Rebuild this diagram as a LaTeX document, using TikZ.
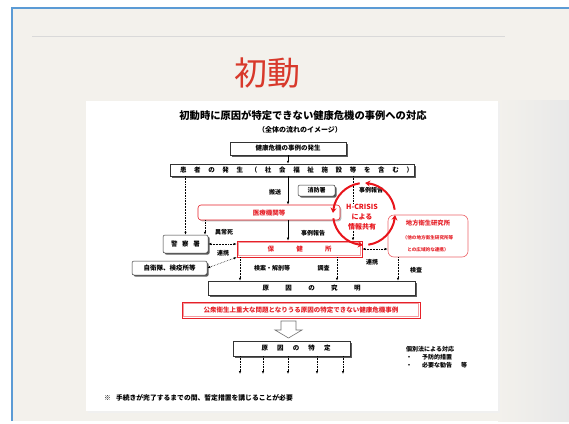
\documentclass[tikz,border=0pt]{standalone}
\usepackage{fontspec}
\setmainfont{Noto Sans CJK JP}
\usetikzlibrary{arrows.meta,shadows,bending,calc}
\definecolor{bgb}{HTML}{F3F1EC}
\definecolor{slblue}{HTML}{5B9BD5}
\definecolor{ttlred}{HTML}{D8392B}
\definecolor{dred}{HTML}{E62129}
\definecolor{hcred}{HTML}{E8141B}
\newcommand\spr[2]{\makebox[#1][s]{#2}}
\newcommand\bigf{\fontsize{6.3}{8}\selectfont\bfseries}
\newcommand\smlf{\fontsize{4.6}{6}\selectfont\bfseries}
\begin{document}
\begin{tikzpicture}[x=1pt,y=-1pt,
 >={Latex[length=3pt,width=2.4pt]},
 bbox/.style={draw=black!80, line width=0.5pt, fill=white, inner sep=0pt, font=\fontsize{6.5}{7}\selectfont\bfseries,
   drop shadow={shadow xshift=1.6pt, shadow yshift=-1.6pt, fill=black!75, opacity=0.85}},
 rbx/.style={draw=dred, line width=0.6pt, fill=white, inner sep=0pt, text=dred, font=\fontsize{6.5}{7}\selectfont\bfseries,
   drop shadow={shadow xshift=1.4pt, shadow yshift=-1.4pt, fill=black!35, opacity=0.8}},
 lbl/.style={font=\fontsize{6}{7}\selectfont\bfseries, inner sep=0.5pt},
 dotl/.style={densely dotted, line width=0.55pt, ->},
 dotb/.style={densely dotted, line width=0.55pt, <->},
 soll/.style={line width=0.55pt, ->},
 hcr/.style={draw=hcred, line width=2pt, -{Stealth[length=5pt,width=6pt,bend]}},
]
\useasboundingbox (0,0) rectangle (569,423);
% slide background
\fill[white] (0,0) rectangle (569,423);
\fill[bgb] (12,8) rectangle (569,421);
\shade[left color=bgb, right color=black!9] (498,100) rectangle (569,421);
\draw[slblue, line width=1.5pt] (12,421) -- (12,8) -- (569,8);
\draw[black!15, line width=0.6pt] (32,36) -- (505,36);
\node[font=\fontsize{33}{36}\selectfont, text=ttlred] (ttl) at (267,73) {初動};
% white panel
\fill[black!6] (88,103) rectangle (500,413);
\fill[white] (86,101) rectangle (498,411);

% titles
\node[font=\fontsize{10.3}{12}\selectfont\bfseries] (dt) at (303,116) {初動時に原因が特定できない健康危機の事例への対応};
\node[font=\fontsize{7}{8}\selectfont\bfseries] (sub) at (300,130) {（全体の流れのイメージ）};

% boxes
\node[bbox, minimum width=116pt, minimum height=13pt] (hassei) at (288,148.5) {健康危機の事例の発生};
\node[bbox, minimum width=244pt, minimum height=12pt] (kanja) at (292,170)
  {\spr{244pt}{\hspace{10pt}患\hfill 者\hfill の\hfill 発\hfill 生\hfill （\hfill 社\hfill 会\hfill 福\hfill 祉\hfill 施\hfill 設\hfill 等\hfill を\hfill 含\hfill む\hfill ）\hspace{1pt}}};
\node[bbox, rounded corners=2pt, minimum width=37pt, minimum height=11pt, font=\fontsize{6}{7}\selectfont\bfseries] (shobo) at (316.5,190.5) {消防署};
\node[rbx, rounded corners=3pt, minimum width=142pt, minimum height=15pt] (iryo) at (269,212.5) {医療機関等};
\node[bbox, rounded corners=2pt, minimum width=45pt, minimum height=18pt] (keisatsu) at (185.5,244) {\spr{29pt}{警\hfill 察\hfill 署}};
\node[rbx, minimum width=125pt, minimum height=16pt] (hokenjo) at (299.5,249) {\spr{64pt}{保\hfill 健\hfill 所}};
\draw[dred!45, line width=0.6pt] ($(hokenjo.north west)+(1.6pt,-1.6pt)$) rectangle ($(hokenjo.south east)+(-1.6pt,1.6pt)$);
\node[bbox, rounded corners=2pt, minimum width=75pt, minimum height=14pt] (jieitai) at (169.5,268) {自衛隊、検疫所等};
\node[draw=dred!70, line width=0.6pt, rounded corners=6pt, fill=white, minimum width=80pt, minimum height=42pt, align=center, text=dred, inner sep=0pt] (chiken) at (428,236)
  {\bigf 地方衛生研究所\\[1.5pt]\smlf （他の地方衛生研究所等\\\smlf との広域的な連携）};
\node[bbox, minimum width=207pt, minimum height=14pt] (kyumei) at (311.5,288) {\spr{98pt}{原\hfill 因\hfill の\hfill 究\hfill 明}};
\node[draw=dred, line width=0.6pt, fill=white, minimum width=238pt, minimum height=16pt, inner sep=0pt, text=dred, font=\fontsize{6.5}{7}\selectfont\bfseries] (jirei) at (301,310) {公衆衛生上重大な問題となりうる原因の特定できない健康危機事例};
\draw[dred!45, line width=0.6pt] ($(jirei.north west)+(1.6pt,-1.6pt)$) rectangle ($(jirei.south east)+(-1.6pt,1.6pt)$);
\draw[black!55, fill=white, line width=0.6pt] (281,321) -- (296,321) -- (296,330) -- (302,330) -- (288.5,338) -- (275,330) -- (281,330) -- cycle;
\node[bbox, minimum width=117pt, minimum height=15pt] (tokutei) at (291.5,348.5) {\hspace{9pt}\spr{69pt}{原\hfill 因\hfill の\hfill 特\hfill 定}};

% helper x positions
\coordinate (x185) at (185.5,0);
\coordinate (x205) at (205,0);
\coordinate (x240) at (240,0);
\coordinate (x337) at (337,0);
\coordinate (x353) at (353,0);
\coordinate (x398) at (398,0);

% connectors
\draw[soll] (hassei.south) -- (hassei.south |- kanja.north);
\draw[dotl] (kanja.south -| x185) -- (keisatsu.north -| x185);
\draw[soll] (kanja.south -| hassei.south) -- (iryo.north -| hassei.south);
\draw[dotl] (kanja.south -| x353) -- (hokenjo.north -| x353);
\draw[dotl] (iryo.south -| x205) -- (keisatsu.north -| x205);
\draw[soll] (iryo.south -| hassei.south) -- (hokenjo.north -| hassei.south);
\draw[dotb] (keisatsu.east) -- (hokenjo.west |- keisatsu.east);
\draw[dotb] (jieitai.east) -- (hokenjo.south west);
\draw[dotb] (hokenjo.east) -- (chiken.west |- hokenjo.east);
\draw[dotl] (hokenjo.south -| x240) -- (kyumei.north -| x240);
\draw[dotl] (hokenjo.south -| x337) -- (kyumei.north -| x337);
\draw[dotl] (chiken.south -| x398) -- (kyumei.north -| x398);
\foreach \i/\x in {1/240,2/263,3/288,4/317,5/343}{
  \coordinate (e\i) at (\x,374);
  \draw[dotl] (tokutei.south -| e\i) -- (e\i);
}

% labels
\node[lbl] (l1) at (275,192) {搬送};
\node[lbl] (l2) at (371,190) {事例報告};
\node[lbl] (l3) at (224,232) {異常死};
\node[lbl] (l4) at (313,233) {事例報告};
\node[lbl] (l5) at (223,253) {連携};
\node[lbl] (l6) at (372,262) {連携};
\node[lbl] (l7) at (272,268) {検案・解剖等};
\node[lbl] (l8) at (323.5,268) {調査};
\node[lbl] (l9) at (416,270) {検査};

% right text and note
\node[anchor=west, align=left, inner sep=0pt, font=\fontsize{6}{8}\selectfont\bfseries] (kobetsu) at (406,357)
  {個別法による対応\\・\hspace{10pt}予防的措置\\・\hspace{10pt}必要な勧告\hspace{9pt}等};
\node[anchor=west, inner sep=0pt, font=\fontsize{6.8}{8}\selectfont\bfseries] (note) at (104,398) {※\hspace{5pt}手続きが完了するまでの間、暫定措置を講じることが必要};

% H-CRISIS circle
\coordinate (hc) at (364,214);
\draw[hcr] ($(hc)+(8:31pt)$) arc[start angle=8, end angle=88, radius=31pt];
\draw[hcr] ($(hc)+(98:31pt)$) arc[start angle=98, end angle=178, radius=31pt];
\draw[hcr] ($(hc)+(188:31pt)$) arc[start angle=188, end angle=268, radius=31pt];
\draw[hcr] ($(hc)+(278:31pt)$) arc[start angle=278, end angle=358, radius=31pt];
\node[align=center, text=hcred, font=\fontsize{7}{10}\selectfont\bfseries, fill=white, inner sep=0.5pt] (hcrisis) at (362,217) {H-CRISIS\\による\\情報共有};
\end{tikzpicture}
\end{document}
